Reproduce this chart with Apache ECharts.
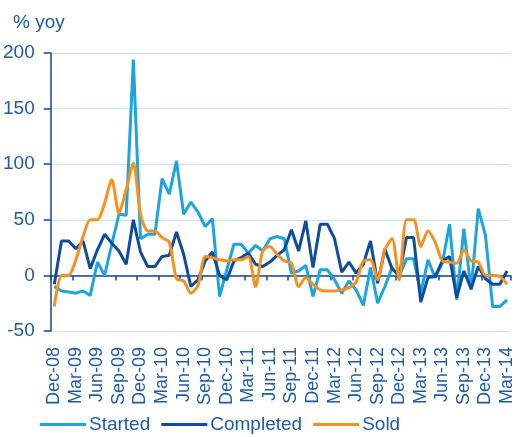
<!DOCTYPE html>
<html>
<head>
<meta charset="utf-8">
<script src="https://cdn.jsdelivr.net/npm/echarts@6/dist/echarts.min.js"></script>
<style>
html,body{margin:0;padding:0;background:#fff;}
#chart{width:516px;height:437px;}
</style>
</head>
<body>
<div id="chart"></div>
<script>
// months, Dec-08 .. Mar-14
var months = ['Dec-08','Jan-09','Feb-09','Mar-09','Apr-09','May-09','Jun-09','Jul-09','Aug-09','Sep-09','Oct-09','Nov-09',
    'Dec-09','Jan-10','Feb-10','Mar-10','Apr-10','May-10','Jun-10','Jul-10','Aug-10','Sep-10','Oct-10','Nov-10',
    'Dec-10','Jan-11','Feb-11','Mar-11','Apr-11','May-11','Jun-11','Jul-11','Aug-11','Sep-11','Oct-11','Nov-11',
    'Dec-11','Jan-12','Feb-12','Mar-12','Apr-12','May-12','Jun-12','Jul-12','Aug-12','Sep-12','Oct-12','Nov-12',
    'Dec-12','Jan-13','Feb-13','Mar-13','Apr-13','May-13','Jun-13','Jul-13','Aug-13','Sep-13','Oct-13','Nov-13',
    'Dec-13','Jan-14','Feb-14','Mar-14'];
var started = [-10,-14,-15,-16,-14,-18,12,0,28,55,54,194,33,37,37,87,73,103,55,66,57,44,51,-19,5,28,28,20,27,22,33,35,
    33,2,4,9,-19,5,5,-4,-16,-5,-13,-27,7,-25,-10,7,-1,15,15,-16,14,-2,11,46,-22,42,-13,60,36,-28,-28,-22];
var completed = [-8,31,31,24,31,6,23,37,29,22,10,50,21,8,8,17,18,39,19,-10,-4,13,21,0,-4,13,16,20,10,8,12,18,
    23,41,22,49,7,46,46,33,3,12,2,10,31,-7,24,6,0,34,34,-24,-2,-1,13,17,-20,4,-12,8,-3,-8,-8,4];
var sold = [-28,0,0,14,35,50,50,65,86,56,77,101,55,40,40,34,30,-3,-5,-16,-9,17,16,14,13,14,14,17,-10,22,26,19,
    13,11,-10,-2,-8,-13,-14,-14,-13,-11,-6,13,14,-4,23,33,-4,50,50,26,40,30,13,12,11,23,13,12,0,0,-1,-8];
var yTicks = [-50, 0, 50, 100, 150, 200];

var textColor = '#1E5BA8';
var axisColor = '#18468F';
var gridColor = '#C2E4F6';
var fontName = '"Liberation Sans", Arial, sans-serif';

var myChart = echarts.init(document.getElementById('chart'));
var option = {
    animation: false,
    textStyle: { fontFamily: fontName },
    title: {
        text: '% yoy',
        left: 8,
        top: 8,
        textStyle: { color: textColor, fontSize: 19, fontWeight: 'normal', fontFamily: fontName }
    },
    legend: {
        left: 40,
        bottom: 3,
        padding: 0,
        icon: 'rect',
        itemWidth: 46,
        itemHeight: 3,
        itemGap: 11,
        textStyle: { color: textColor, fontSize: 19, fontFamily: fontName, padding: [0, 0, 0, -2] },
        data: ['Started', 'Completed', 'Sold']
    },
    grid: { left: 50, right: 4, top: 53, bottom: 106, containLabel: false },
    xAxis: [
        {
            type: 'category',
            data: months,
            boundaryGap: true,
            position: 'bottom',
            axisLine: { show: false, onZero: false },
            axisTick: { show: false },
            axisLabel: {
                interval: 2,
                rotate: 90,
                margin: 16,
                color: textColor,
                fontSize: 18,
                fontFamily: fontName
            },
            splitLine: { show: false }
        },
        {
            type: 'category',
            data: months,
            boundaryGap: true,
            position: 'top',
            axisLine: { show: true, onZero: true, lineStyle: { color: axisColor, width: 1.5 } },
            axisTick: { show: true, inside: true, interval: 2, length: 5, lineStyle: { color: axisColor, width: 1.5 } },
            axisLabel: { show: false },
            splitLine: { show: false }
        }
    ],
    yAxis: {
        type: 'value',
        min: yTicks[0],
        max: yTicks[yTicks.length - 1],
        interval: 50,
        axisLine: { show: true, lineStyle: { color: axisColor, width: 1.5 } },
        axisTick: { show: true, length: 7, lineStyle: { color: axisColor, width: 1.5 } },
        axisLabel: { color: textColor, fontSize: 19, margin: 16, fontFamily: fontName },
        splitLine: { show: true, lineStyle: { color: gridColor, width: 1 } }
    },
    series: [
        {
            name: 'Started',
            type: 'line',
            data: started,
            symbol: 'none',
            itemStyle: { color: '#1CA3E0' },
            lineStyle: { color: '#1CA3E0', width: 3 }
        },
        {
            name: 'Completed',
            type: 'line',
            data: completed,
            symbol: 'none',
            itemStyle: { color: '#0E4C9C' },
            lineStyle: { color: '#0E4C9C', width: 3 }
        },
        {
            name: 'Sold',
            type: 'line',
            data: sold,
            symbol: 'none',
            smooth: 0.25,
            itemStyle: { color: '#F7901E' },
            lineStyle: { color: '#F7901E', width: 3 }
        }
    ]
};
myChart.setOption(option);
</script>
</body>
</html>
